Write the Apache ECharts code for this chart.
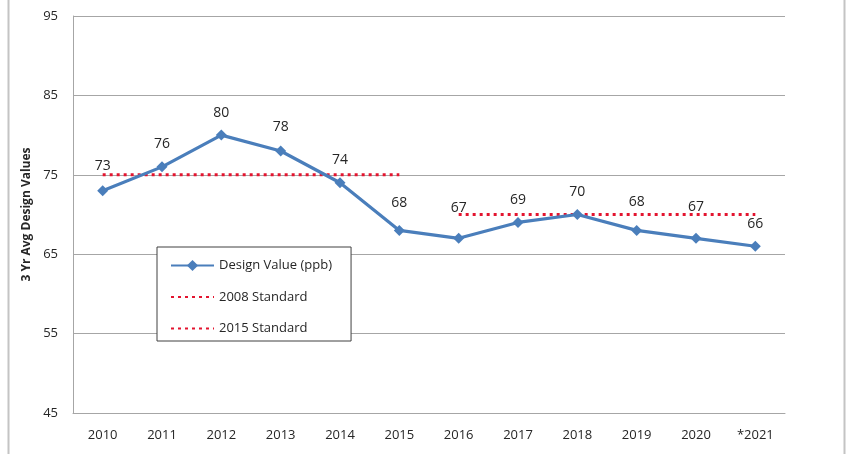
<!DOCTYPE html>
<html>
<head>
<meta charset="utf-8">
<script src="https://cdn.jsdelivr.net/npm/echarts@6/dist/echarts.min.js"></script>
<style>
  html, body { margin: 0; padding: 0; background: #fff; }
  #chart { width: 847px; height: 454px; }
</style>
</head>
<body>
<div id="chart"></div>
<script>
// data
var years = ["2010", "2011", "2012", "2013", "2014", "2015", "2016", "2017", "2018", "2019", "2020", "*2021"];
var designValues = [73, 76, 80, 78, 74, 68, 67, 69, 70, 68, 67, 66];
var standard2008 = [75, 75, 75, 75, 75, 75, "-", "-", "-", "-", "-", "-"];
var standard2015 = ["-", "-", "-", "-", "-", "-", 70, 70, 70, 70, 70, 70];
var yMin = 45, yMax = 95, yStep = 10;

// extra lift of some value labels (px), as placed in the original
var labelLift = [2, 0, 0, 1, 0, 5, 8, 0, 0, 6, 9, 0];

var font = "Open Sans";
var chart = echarts.init(document.getElementById("chart"));

var valueData = designValues.map(function (v, i) {
  return { value: v, label: { offset: [0, -labelLift[i]] } };
});

var hiddenMark = { opacity: 0 };

chart.setOption({
  animation: false,
  backgroundColor: "#fff",
  textStyle: { fontFamily: font },
  grid: { left: 73, right: 62, top: 16, bottom: 41, containLabel: false },
  graphic: [
    { type: "line", shape: { x1: 8.5, y1: 0, x2: 8.5, y2: 454 }, style: { stroke: "#c4c4c4", lineWidth: 2 } },
    { type: "line", shape: { x1: 844.5, y1: 0, x2: 844.5, y2: 454 }, style: { stroke: "#c4c4c4", lineWidth: 2 } }
  ],
  legend: {
    orient: "vertical",
    left: 157,
    top: 247,
    padding: [12, 19, 6, 13],
    itemWidth: 43,
    itemHeight: 14,
    itemGap: 18.5,
    backgroundColor: "#fff",
    borderColor: "#404040",
    borderWidth: 1,
    textStyle: { color: "#262626", fontSize: 13, fontFamily: font },
    data: [
      { name: "Design Value (ppb)" },
      { name: "2008 Standard", itemStyle: hiddenMark },
      { name: "2015 Standard", itemStyle: hiddenMark }
    ]
  },
  xAxis: {
    type: "category",
    data: years,
    boundaryGap: true,
    axisLine: { lineStyle: { color: "#a6a6a6", width: 1 } },
    axisTick: { show: false },
    axisLabel: { color: "#262626", fontSize: 13, margin: 16, fontFamily: font }
  },
  yAxis: {
    type: "value",
    min: yMin,
    max: yMax,
    interval: yStep,
    name: "3 Yr Avg Design Values",
    nameLocation: "middle",
    nameRotate: 90,
    nameGap: 32,
    nameTextStyle: { color: "#262626", fontSize: 12, fontWeight: "bold", fontFamily: font },
    axisLine: { show: true, lineStyle: { color: "#a6a6a6" } },
    axisTick: { show: false },
    axisLabel: { color: "#262626", fontSize: 13, margin: 15, fontFamily: font },
    splitLine: { lineStyle: { color: "#a6a6a6", width: 1 } }
  },
  series: [
    {
      name: "2008 Standard",
      type: "line",
      data: standard2008,
      symbol: "none",
      color: "#e3142f",
      lineStyle: { color: "#e3142f", width: 3, type: [3, 4] },
      z: 1
    },
    {
      name: "2015 Standard",
      type: "line",
      data: standard2015,
      symbol: "none",
      color: "#e3142f",
      lineStyle: { color: "#e3142f", width: 3, type: [3, 4] },
      z: 1
    },
    {
      name: "Design Value (ppb)",
      type: "line",
      data: valueData,
      symbol: "diamond",
      symbolSize: 11,
      color: "#4a7ebb",
      lineStyle: { color: "#4a7ebb", width: 3.2 },
      itemStyle: { color: "#4a7ebb" },
      label: {
        show: true,
        position: "top",
        distance: 10,
        color: "#262626",
        fontSize: 14,
        fontFamily: font
      },
      z: 3
    }
  ]
});
</script>
</body>
</html>
